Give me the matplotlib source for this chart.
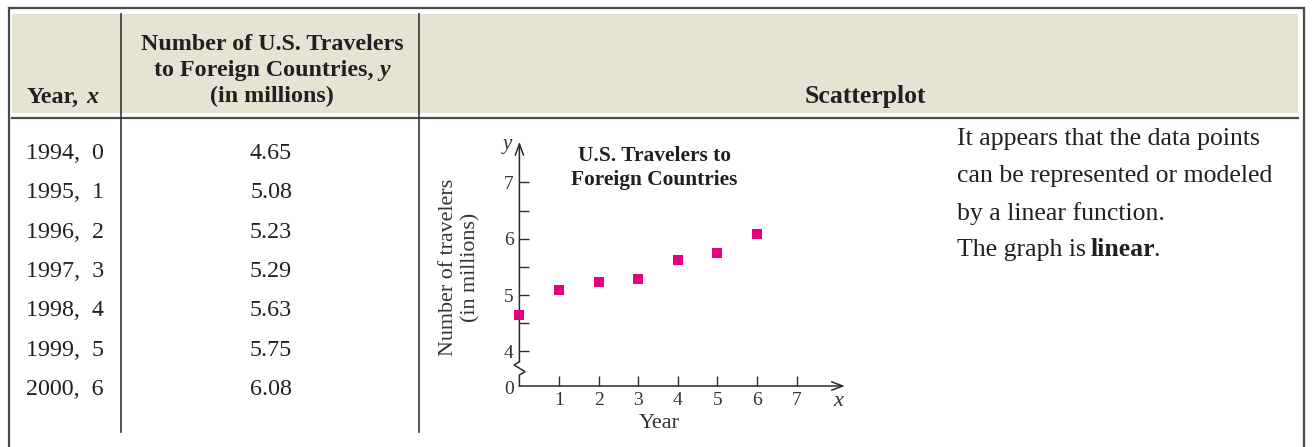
import matplotlib
matplotlib.use('Agg')
import matplotlib.pyplot as plt
import matplotlib.patches as mpatches
import numpy as np

plt.rcParams['font.family'] = ['Liberation Serif', 'DejaVu Serif']

# data
years = [1994, 1995, 1996, 1997, 1998, 1999, 2000]
x_codes = [0, 1, 2, 3, 4, 5, 6]
travelers = [4.65, 5.08, 5.23, 5.29, 5.63, 5.75, 6.08]
x_ticks = [1, 2, 3, 4, 5, 6, 7]
y_ticks = [4, 5, 6, 7]
y_minor = [4.5, 5.5, 6.5]

ink = '#231f20'
rule = '#4a4a4a'
beige = '#e5e3d4'
pink = '#e6007e'

W, H = 1314, 447
fig = plt.figure(figsize=(W / 100, H / 100), dpi=100)
fig.patch.set_facecolor('white')

# background axes in pixel units (y down)
bg = fig.add_axes([0, 0, 1, 1])
bg.set_xlim(0, W)
bg.set_ylim(H, 0)
bg.axis('off')

renderer = fig.canvas.get_renderer()


def rich(x, y, parts, ha='left', size=17.3, gap=4.8, **kw):
    # parts: (text, weight, style) drawn one after another
    texts = [bg.text(0, y, s, fontweight=w, fontstyle=st, fontsize=size,
                     color=ink, va='baseline', **kw) for s, w, st in parts]
    widths = [t.get_window_extent(renderer).width for t in texts]
    total = sum(widths) + gap * (len(parts) - 1)
    pos = x - total / 2 if ha == 'center' else x
    for t, w in zip(texts, widths):
        t.set_x(pos)
        pos += w + gap
    return texts


# table frame
bg.add_patch(mpatches.Rectangle((12, 14), 1286, 99, color=beige, lw=0))
bg.plot([9, 1304], [8, 8], color=rule, lw=1.6)
bg.plot([12, 1298], [118, 118], color=rule, lw=1.6)
bg.plot([9, 9], [8, H], color=rule, lw=1.6)
bg.plot([1304, 1304], [8, H], color=rule, lw=1.6)
bg.plot([121, 121], [14, 432], color='#333333', lw=1.2)
bg.plot([419, 419], [14, 432], color='#333333', lw=1.2)

# header
hsize = 17.3
rich(27, 103, [('Year,', 'bold', 'normal'), ('x', 'bold', 'italic')], size=hsize, gap=7)
bg.text(272, 50, 'Number of U.S. Travelers', fontsize=hsize, fontweight='bold',
        color=ink, ha='center', va='baseline')
rich(272, 76, [('to Foreign Countries,', 'bold', 'normal'), ('y', 'bold', 'italic')],
     ha='center', size=hsize, gap=6)
bg.text(272, 102, '(in millions)', fontsize=hsize, fontweight='bold',
        color=ink, ha='center', va='baseline')
bg.text(865, 103, 'Scatterplot', fontsize=18.5, fontweight='bold',
        color=ink, ha='center', va='baseline')

# table body
for i, (yr, c, v) in enumerate(zip(years, x_codes, travelers)):
    yy = 159 + i * 39.3
    bg.text(26, yy, f'{yr},  {c}', fontsize=17.3, color=ink, va='baseline')
    bg.text(271, yy, f'{v:.2f}', fontsize=17.3, color=ink, va='baseline', ha='center')

# right note
nsize = 18.5
notes = ['It appears that the data points',
         'can be represented or modeled',
         'by a linear function.']
for i, s in enumerate(notes):
    bg.text(957, 145 + i * 37.3, s, fontsize=nsize, color=ink, va='baseline')
rich(957, 256, [('The graph is', 'normal', 'normal'), ('linear', 'bold', 'normal')],
     size=nsize, gap=5)
t_end = bg.texts[-1]
bg.annotate('.', xy=(1, 0), xycoords=t_end, xytext=(-1.5, 0),
            textcoords='offset points', fontsize=nsize, color=ink,
            va='bottom', ha='left')

# scatterplot axes, placed in pixels
x0_px, xaxis_px = 519.4, 386.0
px_x, px_y = 39.6, 56.3
y4_px = 351.3
xlo, xhi = 0, 8.3
ylo = 4 - (xaxis_px - y4_px) / px_y
yhi = 7.75
ax = fig.add_axes([x0_px / W, (H - xaxis_px) / H,
                   (xhi - xlo) * px_x / W, (yhi - ylo) * px_y / H])
ax.set_xlim(xlo, xhi)
ax.set_ylim(ylo, yhi)
ax.patch.set_alpha(0)
for sp in ax.spines.values():
    sp.set_visible(False)


def ypx(p):
    return 4 - (p - y4_px) / px_y


axis_kw = dict(color='#2b2b2b', lw=1.1)
# broken y axis
zz_x = [0, 0, 5.7 / px_x, -5.3 / px_x, 0, 0]
zz_y = [ylo, ypx(375), ypx(371.7), ypx(365), ypx(361.7), ypx(361.7)]
ax.plot(zz_x, zz_y, clip_on=False, solid_joinstyle='miter', **axis_kw)
arrow = '->,head_length=0.8,head_width=0.3'
ax.annotate('', xy=(0, 7.72), xytext=(0, ypx(361.7)),
            arrowprops=dict(arrowstyle=arrow, color='#2b2b2b', lw=1.1,
                            shrinkA=0, shrinkB=0))
ax.annotate('', xy=(8.22, ylo), xytext=(0, ylo),
            arrowprops=dict(arrowstyle=arrow, color='#2b2b2b', lw=1.1,
                            shrinkA=0, shrinkB=0))

ax.set_xticks(x_ticks)
ax.set_yticks(y_ticks)
ax.set_yticks(y_minor, minor=True)
ax.tick_params(axis='both', which='both', direction='in', length=7, width=1,
               color='#2b2b2b', labelsize=14, labelcolor='#333333', pad=4)
ax.tick_params(axis='x', pad=4)
ax.tick_params(axis='x', which='minor', length=0)

ax.scatter(x_codes, travelers, marker='s', s=6.8 ** 2, color=pink, lw=0,
           zorder=5, clip_on=False)

# axis texts
bg.text(509, 390, '0', fontsize=14, color='#333333', ha='center', va='center')
bg.text(838, 402, 'x', fontsize=16, fontstyle='italic', color='#333333',
        ha='center', va='center')
bg.text(507, 144, 'y', fontsize=15, fontstyle='italic', color='#333333',
        ha='center', va='center')
bg.text(460, 267, 'Number of travelers\n(in millions)', fontsize=15.8,
        color='#333333', rotation=90, ha='center', va='center',
        multialignment='center', linespacing=1.2)
bg.text(659, 423, 'Year', fontsize=16, color='#333333', ha='center', va='center')
bg.text(654, 168, 'U.S. Travelers to\nForeign Countries', fontsize=15.4,
        fontweight='bold', color=ink, ha='center', va='center',
        multialignment='center', linespacing=1.33)

fig.savefig('out.png', dpi=100)
